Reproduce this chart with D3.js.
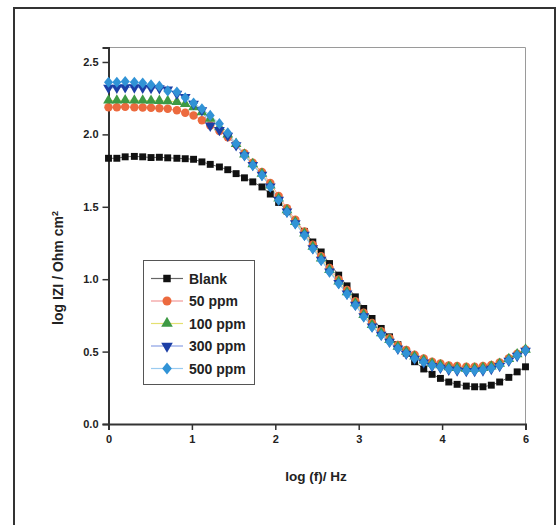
<!DOCTYPE html>
<html>
<head>
<meta charset="utf-8">
<script src="https://cdn.jsdelivr.net/npm/d3@7"></script>
<style>
  html, body { margin: 0; padding: 0; background: #fff; }
  svg { display: block; }
  text { font-family: "Liberation Sans", Arial, sans-serif; font-weight: bold; fill: #222; }
</style>
</head>
<body>
<svg id="chart" width="559" height="525"></svg>
<script>
// log frequency (Hz) of each measured point
const logF = [0.00, 0.10, 0.20, 0.31, 0.41, 0.51, 0.61, 0.71, 0.82, 0.92,
              1.02, 1.12, 1.22, 1.33, 1.43, 1.53, 1.63, 1.73, 1.84, 1.94,
              2.04, 2.14, 2.24, 2.35, 2.45, 2.55, 2.65, 2.76, 2.86, 2.96,
              3.06, 3.16, 3.27, 3.37, 3.47, 3.57, 3.67, 3.78, 3.88, 3.98,
              4.08, 4.18, 4.29, 4.39, 4.49, 4.59, 4.69, 4.80, 4.90, 5.00];

// log |Z| (Ohm cm2) for each inhibitor concentration
const blank = [1.835, 1.835, 1.845, 1.848, 1.845, 1.840, 1.842, 1.838, 1.835, 1.832,
               1.828, 1.810, 1.793, 1.775, 1.756, 1.729, 1.700, 1.672, 1.637, 1.588,
               1.530, 1.470, 1.400, 1.330, 1.257, 1.188, 1.108, 1.028, 0.954, 0.878,
               0.798, 0.729, 0.660, 0.602, 0.548, 0.490, 0.430, 0.380, 0.343, 0.315,
               0.290, 0.274, 0.262, 0.257, 0.257, 0.268, 0.290, 0.322, 0.360, 0.395];

const ppm50 = [2.188, 2.188, 2.190, 2.188, 2.186, 2.184, 2.180, 2.177, 2.166, 2.150,
               2.130, 2.097, 2.062, 2.023, 1.980, 1.930, 1.870, 1.805, 1.740, 1.665,
               1.575, 1.490, 1.410, 1.330, 1.238, 1.158, 1.078, 0.998, 0.925, 0.848,
               0.768, 0.698, 0.640, 0.592, 0.546, 0.512, 0.478, 0.452, 0.430, 0.418,
               0.405, 0.400, 0.396, 0.396, 0.400, 0.408, 0.425, 0.455, 0.485, 0.515];

const ppm100 = [2.234, 2.234, 2.236, 2.235, 2.234, 2.233, 2.232, 2.230, 2.225, 2.210,
                2.188, 2.154, 2.108, 2.050, 2.000, 1.935, 1.862, 1.795, 1.728, 1.648,
                1.558, 1.476, 1.396, 1.316, 1.224, 1.144, 1.064, 0.984, 0.910, 0.834,
                0.754, 0.684, 0.628, 0.580, 0.534, 0.500, 0.466, 0.440, 0.418, 0.406,
                0.393, 0.388, 0.383, 0.383, 0.388, 0.398, 0.416, 0.450, 0.482, 0.514];

const ppm300 = [2.322, 2.322, 2.325, 2.324, 2.322, 2.320, 2.318, 2.310, 2.280, 2.258,
                2.210, 2.166, 2.060, 2.030, 1.990, 1.925, 1.855, 1.788, 1.720, 1.640,
                1.548, 1.466, 1.386, 1.306, 1.213, 1.134, 1.053, 0.973, 0.900, 0.823,
                0.743, 0.673, 0.616, 0.568, 0.520, 0.485, 0.450, 0.424, 0.400, 0.388,
                0.375, 0.370, 0.365, 0.365, 0.370, 0.380, 0.400, 0.436, 0.470, 0.505];

const ppm500 = [2.360, 2.360, 2.365, 2.360, 2.354, 2.343, 2.333, 2.300, 2.292, 2.253,
                2.216, 2.177, 2.131, 2.074, 2.010, 1.936, 1.855, 1.786, 1.717, 1.637,
                1.545, 1.464, 1.384, 1.303, 1.210, 1.131, 1.050, 0.970, 0.897, 0.820,
                0.740, 0.670, 0.614, 0.567, 0.521, 0.487, 0.453, 0.428, 0.405, 0.393,
                0.380, 0.375, 0.370, 0.370, 0.375, 0.385, 0.405, 0.440, 0.474, 0.509];

const seriesNames = ["Blank", "50 ppm", "100 ppm", "300 ppm", "500 ppm"];
const xTicks = [0, 1, 2, 3, 4, 5];
const xTickLabels = ["0", "1", "2", "3", "4", "6"];
const yTicks = [0, 0.5, 1.0, 1.5, 2.0, 2.5];
const yTickLabels = ["0.0", "0.5", "1.0", "1.5", "2.0", "2.5"];

// a squat diamond, a little wider than d3's own
const fatDiamond = {
  draw(ctx, size) {
    const h = Math.sqrt(size / 1.6) , w = h * 0.8;
    ctx.moveTo(0, -h); ctx.lineTo(w, 0); ctx.lineTo(0, h); ctx.lineTo(-w, 0); ctx.closePath();
  }
};

const styles = [
  { shape: d3.symbolSquare,   size: 48, fill: "#111111", line: "#666666", rot: 0 },
  { shape: d3.symbolCircle,   size: 56, fill: "#ec6a3e", line: "#f29a9a", rot: 0 },
  { shape: d3.symbolTriangle, size: 50, fill: "#3e9a44", line: "#e4e070", rot: 0 },
  { shape: d3.symbolTriangle, size: 50, fill: "#1c3fa6", line: "#8aa0e4", rot: 180 },
  { shape: fatDiamond,        size: 50, fill: "#3193d6", line: "#9acbf0", rot: 0 }
];

const values = [blank, ppm50, ppm100, ppm300, ppm500];
const series = seriesNames.map((name, i) => ({
  name, style: styles[i],
  points: logF.map((f, j) => ({ x: f, y: values[i][j] }))
}));

const svg = d3.select("#chart");

// outer frame
svg.append("rect")
  .attr("x", 14).attr("y", 8).attr("width", 541).attr("height", 530)
  .attr("fill", "none").attr("stroke", "#333").attr("stroke-width", 2);

const plotL = 108.5, plotR = 525.5, plotT = 47.5, plotB = 424;
const x = d3.scaleLinear().domain([0, 5]).range([plotL, plotR]);
const y = d3.scaleLinear().domain([0, 2.6]).range([plotB, plotT]);

// top and right frame of the plot
svg.append("path")
  .attr("d", `M${plotL},${plotT}H${plotR}V${plotB}`)
  .attr("fill", "none").attr("stroke", "#9a9a9a").attr("stroke-width", 1);

// axes
const xAxis = d3.axisBottom(x).tickValues(xTicks)
  .tickFormat((d, i) => xTickLabels[i]).tickSize(6).tickPadding(5);
const yAxis = d3.axisLeft(y).tickValues(yTicks)
  .tickFormat((d, i) => yTickLabels[i]).tickSize(6).tickPadding(4);

const gx = svg.append("g").attr("transform", `translate(0,${plotB})`).call(xAxis);
const gy = svg.append("g").attr("transform", `translate(${plotL},0)`).call(yAxis);
[gx, gy].forEach(g => {
  g.select(".domain").attr("stroke", "#333").attr("stroke-width", 2);
  g.selectAll(".tick line").attr("stroke", "#333").attr("stroke-width", 1.5);
  g.selectAll(".tick text")
    .attr("font-family", "'Liberation Sans', Arial, sans-serif")
    .attr("font-weight", "bold").attr("font-size", 11).attr("fill", "#333");
});

// axis titles
svg.append("text")
  .attr("x", 316).attr("y", 481)
  .attr("text-anchor", "middle").attr("font-size", 13.5)
  .text("log (f)/ Hz");

const yt = svg.append("text")
  .attr("transform", "translate(63,268) rotate(-90)")
  .attr("text-anchor", "middle").attr("font-size", 14);
yt.append("tspan").text("log IZI / Ohm cm");
yt.append("tspan").attr("dy", -5).attr("font-size", 9).text("2");

// series: thin connecting lines, then markers
const line = d3.line().x(d => x(d.x)).y(d => y(d.y));
const plot = svg.append("g");
series.forEach(s => {
  plot.append("path").datum(s.points)
    .attr("d", line).attr("fill", "none")
    .attr("stroke", s.style.line).attr("stroke-width", 1);
});
series.forEach(s => {
  const sym = d3.symbol().type(s.style.shape).size(s.style.size);
  plot.append("g").selectAll("path").data(s.points).join("path")
    .attr("transform", d => `translate(${x(d.x)},${y(d.y)}) rotate(${s.style.rot})`)
    .attr("d", sym).attr("fill", s.style.fill);
});

// legend
const lg = svg.append("g");
lg.append("rect")
  .attr("x", 143.5).attr("y", 260.5).attr("width", 111).attr("height", 124)
  .attr("fill", "#fff").attr("stroke", "#555").attr("stroke-width", 1);
series.forEach((s, i) => {
  const cy = 278.5 + i * 22.5;
  lg.append("line").attr("x1", 151).attr("x2", 183).attr("y1", cy).attr("y2", cy)
    .attr("stroke", s.style.line).attr("stroke-width", 1.2);
  lg.append("path")
    .attr("transform", `translate(167,${cy}) rotate(${s.style.rot})`)
    .attr("d", d3.symbol().type(s.style.shape).size(s.style.size + 8)())
    .attr("fill", s.style.fill);
  lg.append("text").attr("x", 189).attr("y", cy + 5)
    .attr("font-size", 14).text(s.name);
});
</script>
</body>
</html>
